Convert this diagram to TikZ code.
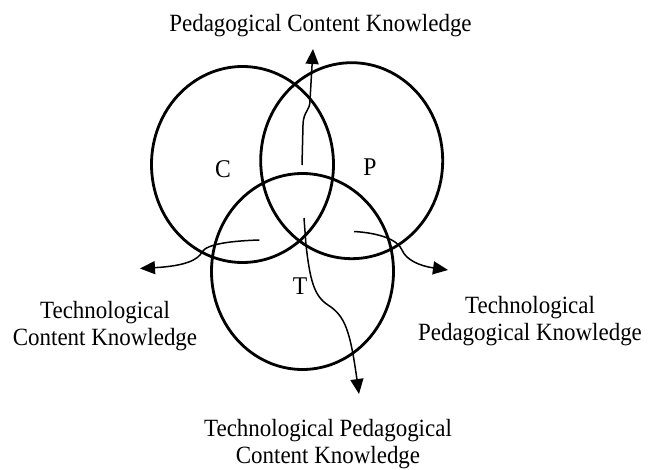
\documentclass[tikz,border=0pt]{standalone}
\usepackage{fontspec}
\usetikzlibrary{arrows.meta,shapes.geometric}
\newfontfamily\labfont[FakeStretch=0.926]{Liberation Serif}
\begin{document}
\begin{tikzpicture}[x=1pt,y=-1pt,
  ring/.style={draw, ellipse, line width=2.8pt, inner sep=0pt, minimum width=182pt, minimum height=196pt},
  letter/.style={font=\labfont\fontsize{25.5}{27}\selectfont, inner sep=0pt, anchor=base},
  lab/.style={font=\labfont\fontsize{24.8}{27}\selectfont, inner sep=0pt, align=center},
  arr/.style={line width=1.5pt, -{Triangle[length=15pt,width=13pt]}}]
\useasboundingbox (0,0) rectangle (656,470);
% circles
\node[ring] (C) at (242.5,164.5) {};
\node[ring] (P) at (351.7,160.7) {};
\node[ring] (T) at (302.5,271.5) {};
% letters
\node[letter] (lc) at (223,178) {C};
\node[letter] (lp) at (370,176) {P};
\node[letter] (lt) at (300,295) {T};
% labels
\node[lab, anchor=base] (pck) at (320.5,31.7) {Pedagogical Content Knowledge};
\node[lab] (tck) at (105,326) {Technological\\Content Knowledge};
\node[lab] (tpk) at (530,321) {Technological\\Pedagogical Knowledge};
\node[lab] (tpck) at (328,444) {Technological Pedagogical\\Content Knowledge};
% arrow ends
\coordinate (s1) at (302,165);
\coordinate (e1) at (313,49);
\coordinate (s2) at (259.3,240);
\coordinate (e2) at (140,268.5);
\coordinate (s3) at (354,231.5);
\coordinate (e3) at (448,270);
\coordinate (s4) at (304,218);
\coordinate (e4) at (359,394);
% arrows
\draw[arr] (s1) -- (303,125) .. controls (303.5,110) and (310,112) .. (310,100) -- (e1);
\draw[arr] (s2) .. controls (230,241) and (207,244) .. (202,252)
  .. controls (198,260) and (185,266) .. (e2);
\draw[arr] (s3) .. controls (380,233) and (398,240) .. (402,250)
  .. controls (406,260) and (420,266) .. (e3);
\draw[arr] (s4) -- (306,245) .. controls (310,280) and (314,296) .. (328,305)
  .. controls (345,316) and (350,330) .. (e4);
\end{tikzpicture}
\end{document}
